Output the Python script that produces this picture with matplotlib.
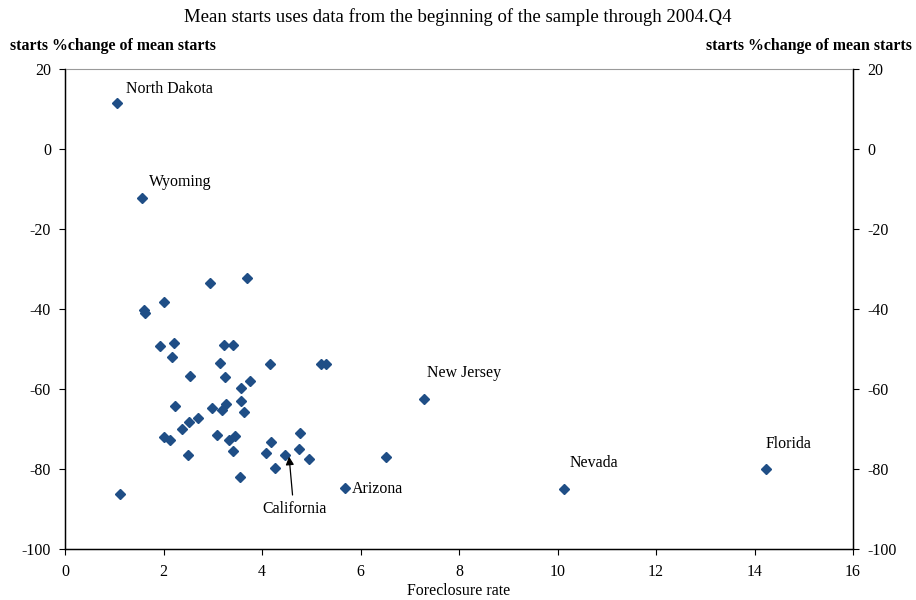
import matplotlib

matplotlib.use("Agg")

import matplotlib.pyplot as plt

plt.rcParams["font.family"] = ["Liberation Serif", "DejaVu Serif"]
plt.rcParams["axes.unicode_minus"] = False

# foreclosure rate (x) and % change of starts vs mean (y)
foreclosure = [
    1.05, 1.57, 2.94, 3.69, 2.02, 1.61, 1.62, 1.93, 2.22, 2.17,
    3.23, 3.42, 3.15, 4.17, 2.54, 3.25, 3.76, 3.57, 3.58, 2.23,
    2.98, 3.18, 3.27, 3.63, 2.71, 2.52, 2.38, 3.08, 3.45, 3.32,
    2.02, 2.13, 4.18, 3.41, 4.08, 2.50, 4.26, 3.55, 1.12, 4.77,
    4.75, 4.47, 4.95, 6.52, 5.68, 5.20, 5.29, 7.29, 10.14, 14.23,
]
starts_change = [
    11.6, -12.3, -33.4, -32.3, -38.3, -40.3, -41.1, -49.3, -48.6, -52.0,
    -48.9, -48.9, -53.5, -53.8, -56.7, -57.0, -57.9, -59.8, -63.0, -64.2,
    -64.8, -65.3, -63.8, -65.8, -67.2, -68.3, -69.9, -71.6, -71.8, -72.8,
    -72.1, -72.8, -73.2, -75.6, -76.0, -76.4, -79.8, -82.0, -86.3, -71.1,
    -75.1, -76.5, -77.5, -77.1, -84.8, -53.8, -53.8, -62.5, -85.1, -79.9,
]

# labelled states: (name, text x, text y)
state_labels = [
    ("North Dakota", 1.24, 15.0),
    ("Wyoming", 1.71, -8.2),
    ("New Jersey", 7.36, -56.1),
    ("Nevada", 10.24, -78.6),
    ("Florida", 14.23, -73.8),
    ("Arizona", 5.82, -85.0),
]
california_text = (4.67, -90.0)
california_tail = (4.62, -86.5)
california_tip = (4.55, -76.9)

x_ticks = [0, 2, 4, 6, 8, 10, 12, 14, 16]
y_ticks = [20, 0, -20, -40, -60, -80, -100]

fig = plt.figure(figsize=(9.16, 6.0), dpi=100)
ax = fig.add_axes([65 / 916, 1 - 549 / 600, 788 / 916, 480 / 600])

ax.plot(foreclosure, starts_change, linestyle="none", marker="D",
        markersize=4.8, color="#1F4E86", markeredgecolor="#1F4E86")

for name, tx, ty in state_labels:
    ax.text(tx, ty, name, fontsize=11.4, ha="left", va="center")

ax.text(*california_text, "California", fontsize=11.4, ha="center", va="center")
ax.annotate("", xy=california_tip, xytext=california_tail,
            arrowprops=dict(arrowstyle="-|>", color="black", lw=0.9,
                            mutation_scale=12, shrinkA=0, shrinkB=0))

ax.set_xlim(0, 16)
ax.set_ylim(-100, 20)
ax.set_xticks(x_ticks)
ax.set_yticks(y_ticks)
ax.tick_params(axis="both", labelsize=11.4, direction="out", length=4, width=0.8)
ax.tick_params(axis="x", pad=7)
ax.tick_params(axis="y", pad=6)

ax.spines["top"].set_color("#9a9a9a")
for side in ("left", "right", "bottom"):
    ax.spines[side].set_color("black")
    ax.spines[side].set_linewidth(1.0)

ax2 = ax.twinx()
ax2.set_ylim(-100, 20)
ax2.set_yticks(y_ticks)
ax2.tick_params(axis="y", labelsize=11.4, direction="out", length=4, width=0.8, pad=6)
ax2.spines["top"].set_visible(False)
ax2.spines["right"].set_color("black")

fig.text(459 / 916, 1 - 591 / 600, "Foreclosure rate", fontsize=11.4,
         ha="center", va="center")
fig.text(0.5, 1 - 17 / 600, "Mean starts uses data from the beginning of the sample through 2004.Q4",
         fontsize=13.5, ha="center", va="center")
fig.text(10 / 916, 1 - 46 / 600, "starts %change of mean starts",
         fontsize=11.4, fontweight="bold", ha="left", va="center")
fig.text(912 / 916, 1 - 46 / 600, "starts %change of mean starts",
         fontsize=11.4, fontweight="bold", ha="right", va="center")

fig.savefig("out.png", dpi=100)
